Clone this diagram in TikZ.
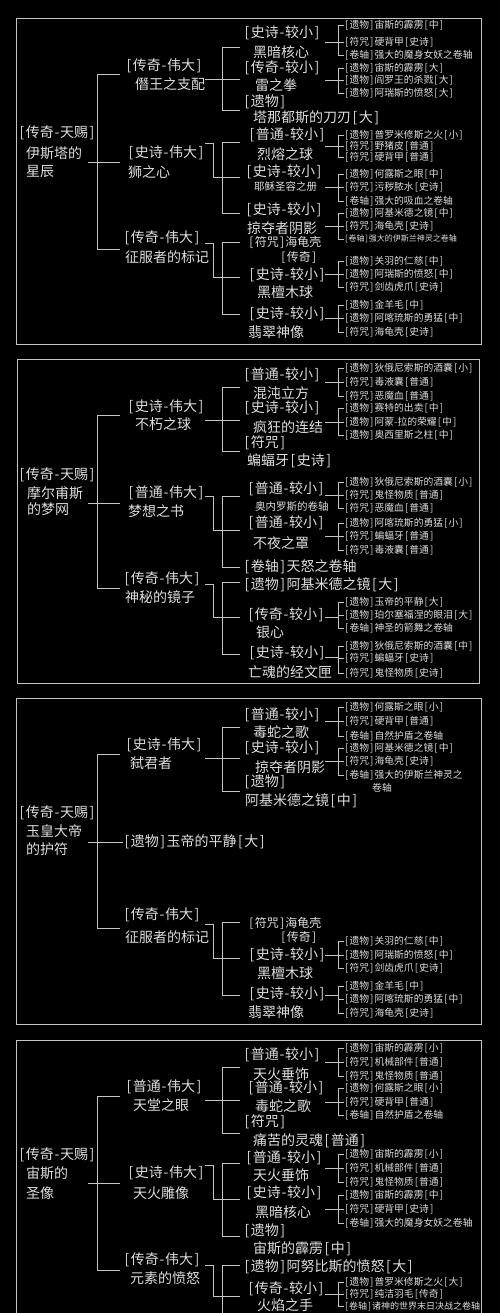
\documentclass[tikz,border=0pt]{standalone}
\usepackage{fontspec}
\setmainfont{Noto Sans CJK SC}
\definecolor{tc}{HTML}{DDDDDD}
\definecolor{lc}{HTML}{C4C4C4}
\newcommand\bk[1]{\makebox[0.55em]{[}#1\makebox[0.55em]{]}}
\newcommand\hy{\makebox[0.45em]{-}}
\newcommand\tg[2]{\bk{#1\hy #2}}
\newcommand\grp[8]{%
  \node[sm] (#1a) at (344,#3) {#6};
  \node[sm] (#1b) at (344,#4) {#7};
  \node[sm] (#1c) at (344,#5) {#8};
  \coordinate (#1s) at (325,#2);
  \draw[ln] (#1a.west) -- (338,#3) -- (338,#5) -- (#1c.west);
  \draw[ln] (#1s) -- (338,#2);
  \draw[ln] (338,#4) -- (#1b.west);
}
\begin{document}
\begin{tikzpicture}[x=1pt,y=-1pt,
  big/.style={anchor=west,inner sep=0pt,text=tc,font=\fontsize{14}{14}\selectfont},
  md/.style={anchor=west,inner sep=0pt,text=tc,font=\fontsize{12}{12}\selectfont},
  ms/.style={anchor=west,inner sep=0pt,text=tc,font=\fontsize{10.5}{10.5}\selectfont},
  sm/.style={anchor=west,inner sep=0pt,text=tc,font=\fontsize{9.8}{9.8}\selectfont},
  ln/.style={draw=lc,line width=0.8pt}]
\useasboundingbox (0,0) rectangle (500,1313);
\clip (0,0) rectangle (500,1313);
\fill[black] (0,0) rectangle (500,1313);

% ================= Panel 1 =================
\draw[ln] (16,18) rectangle (481,344);
\node[big] (r1a) at (18,133) {\tg{传奇}{天赐}};
\node[big] (r1b) at (26,153) {伊斯塔的};
\node[big] (r1c) at (26,172) {星辰};
\draw[ln] (88,162) -- (120,162);
\draw[ln] (120,74) -- (97,74) -- (97,249) -- (120,249);
\node[big] (c11a) at (125,66) {\tg{传奇}{伟大}};
\node[big] (c11b) at (135,84) {僭王之支配};
\node[big] (c12a) at (127,153) {\tg{史诗}{伟大}};
\node[big] (c12b) at (128,172) {狮之心};
\node[big] (c13a) at (123,238) {\tg{传奇}{伟大}};
\node[big] (c13b) at (125,257) {征服者的标记};
\draw[ln] (205,79) -- (240,79);
\draw[ln] (240,47) -- (222,47) -- (222,110) -- (240,110);
\draw[ln] (205,143) -- (213,143) -- (213,177) -- (240,177);
\draw[ln] (240,142) -- (222,142) -- (222,213) -- (240,213);
\draw[ln] (205,243) -- (213,243) -- (213,277) -- (240,277);
\draw[ln] (240,242) -- (222,242) -- (222,314) -- (240,314);
\node[big] (g11a) at (243,33) {\tg{史诗}{较小}};
\node[big] (g11b) at (253,52) {黑暗核心};
\node[big] (g12a) at (243,68) {\tg{传奇}{较小}};
\node[big] (g12b) at (255,85) {雷之拳};
\node[big] (g13a) at (243,102) {\bk{遗物}};
\node[big] (g13b) at (253,118) {塔那都斯的刀刃\bk{大}};
\node[big] (g14a) at (248,135) {\tg{普通}{较小}};
\node[big] (g14b) at (257,154) {烈熔之球};
\node[big] (g15a) at (245,172) {\tg{史诗}{较小}};
\node[ms] (g15b) at (254,187) {耶稣圣容之册};
\node[big] (g16a) at (245,210) {\tg{史诗}{较小}};
\node[big] (g16b) at (247,228) {掠夺者阴影};
\node[md] (g17a) at (248,242) {\bk{符咒}海龟壳};
\node[md] (g17b) at (280,257) {\bk{传奇}};
\node[big] (g18a) at (248,275) {\tg{史诗}{较小}};
\node[big] (g18b) at (257,292) {黑檀木球};
\node[big] (g19a) at (248,314) {\tg{史诗}{较小}};
\node[big] (g19b) at (248,332) {翡翠神像};
\grp{s1A}{42}{25}{42}{55}{\bk{遗物}宙斯的霹雳\bk{中}}{\bk{符咒}硬背甲\bk{史诗}}{\bk{卷轴}强大的魔身女妖之卷轴}
\grp{s1B}{80}{68}{80}{93}{\bk{遗物}宙斯的霹雳\bk{大}}{\bk{遗物}阎罗王的杀戮\bk{大}}{\bk{遗物}阿瑞斯的愤怒\bk{大}}
\grp{s1C}{146}{135}{146}{157}{\bk{遗物}普罗米修斯之火\bk{小}}{\bk{符咒}野猪皮\bk{普通}}{\bk{符咒}硬背甲\bk{普通}}
\grp{s1D}{187}{174}{187}{201}{\bk{遗物}何露斯之眼\bk{中}}{\bk{符咒}污秽脓水\bk{史诗}}{\bk{卷轴}强大的吸血之卷轴}
\grp{s1E}{226}{213}{226}{239}{\bk{遗物}阿基米德之镜\bk{中}}{\bk{符咒}海龟壳\bk{史诗}}{\fontsize{8}{8}\selectfont\bk{卷轴}强大的伊斯兰神灵之卷轴}
\grp{s1F}{274}{261}{274}{287}{\bk{遗物}关羽的仁慈\bk{中}}{\bk{遗物}阿瑞斯的愤怒\bk{中}}{\bk{符咒}剑齿虎爪\bk{史诗}}
\grp{s1G}{318}{305}{318}{332}{\bk{遗物}金羊毛\bk{中}}{\bk{遗物}阿喀琉斯的勇猛\bk{中}}{\bk{符咒}海龟壳\bk{史诗}}

% ================= Panel 2 =================
\draw[ln] (17,359) rectangle (479,683);
\node[big] (r2a) at (18,475) {\tg{传奇}{天赐}};
\node[big] (r2b) at (27,493) {摩尔甫斯};
\node[big] (r2c) at (27,509) {的梦网};
\draw[ln] (88,503) -- (120,503);
\draw[ln] (120,415) -- (97,415) -- (97,588) -- (120,588);
\node[big] (c21a) at (127,407) {\tg{史诗}{伟大}};
\node[big] (c21b) at (135,424) {不朽之球};
\node[big] (c22a) at (127,493) {\tg{普通}{伟大}};
\node[big] (c22b) at (128,511) {梦想之书};
\node[big] (c23a) at (123,579) {\tg{传奇}{伟大}};
\node[big] (c23b) at (125,597) {神秘的镜子};
\draw[ln] (205,420) -- (240,420);
\draw[ln] (240,387) -- (222,387) -- (222,451) -- (240,451);
\draw[ln] (205,496) -- (213,496) -- (213,530) -- (240,530);
\draw[ln] (240,496) -- (222,496) -- (222,567) -- (240,567);
\draw[ln] (205,584) -- (213,584) -- (213,617) -- (240,617);
\draw[ln] (240,582) -- (222,582) -- (222,654) -- (240,654);
\node[big] (g21a) at (243,375) {\tg{普通}{较小}};
\node[big] (g21b) at (253,393) {混沌立方};
\node[big] (g22a) at (243,408) {\tg{史诗}{较小}};
\node[big] (g22b) at (253,427) {疯狂的连结};
\node[big] (g23a) at (243,443) {\bk{符咒}};
\node[big] (g23b) at (247,461) {蝙蝠牙\bk{史诗}};
\node[big] (g24a) at (247,489) {\tg{普通}{较小}};
\node[ms] (g24b) at (255,507) {奥内罗斯的卷轴};
\node[big] (g25a) at (247,523) {\tg{普通}{较小}};
\node[big] (g25b) at (253,543) {不夜之罩};
\node[big] (g26a) at (243,567) {\bk{卷轴}天怒之卷轴};
\node[big] (g27a) at (243,585) {\bk{遗物}阿基米德之镜\bk{大}};
\node[big] (g28a) at (247,615) {\tg{传奇}{较小}};
\node[big] (g28b) at (256,632) {银心};
\node[big] (g29a) at (248,653) {\tg{史诗}{较小}};
\node[big] (g29b) at (248,672) {亡魂的经文匣};
\grp{s2A}{382}{368}{382}{396}{\bk{遗物}狄俄尼索斯的酒囊\bk{小}}{\bk{符咒}毒液囊\bk{普通}}{\bk{符咒}恶魔血\bk{普通}}
\grp{s2B}{422}{408}{422}{435}{\bk{遗物}赛特的出卖\bk{中}}{\bk{遗物}阿蒙-拉的荣耀\bk{中}}{\bk{遗物}奥西里斯之柱\bk{中}}
\grp{s2C}{495}{482}{495}{508}{\bk{遗物}狄俄尼索斯的酒囊\bk{小}}{\bk{符咒}鬼怪物质\bk{普通}}{\bk{符咒}恶魔血\bk{普通}}
\grp{s2D}{536}{523}{536}{550}{\bk{遗物}阿喀琉斯的勇猛\bk{小}}{\bk{符咒}蝙蝠牙\bk{普通}}{\bk{符咒}毒液囊\bk{普通}}
\grp{s2E}{617}{602}{615}{628}{\bk{遗物}玉帝的平静\bk{大}}{\bk{遗物}珀尔塞福涅的眼泪\bk{大}}{\bk{卷轴}神圣的箭舞之卷轴}
\grp{s2F}{657}{646}{658}{673}{\bk{遗物}狄俄尼索斯的酒囊\bk{中}}{\bk{符咒}蝙蝠牙\bk{史诗}}{\bk{符咒}鬼怪物质\bk{史诗}}

% ================= Panel 3 =================
\draw[ln] (16,698) rectangle (481,1024);
\node[big] (r3a) at (18,813) {\tg{传奇}{天赐}};
\node[big] (r3b) at (26,831) {玉皇大帝};
\node[big] (r3c) at (26,849) {的护符};
\node[big] (c32a) at (123,842) {\bk{遗物}玉帝的平静\bk{大}};
\draw[ln] (88,842) -- (c32a.west);
\draw[ln] (120,754) -- (97,754) -- (97,928) -- (120,928);
\node[big] (c31a) at (125,745) {\tg{史诗}{伟大}};
\node[big] (c31b) at (130,763) {弑君者};
\node[big] (c33a) at (123,915) {\tg{传奇}{伟大}};
\node[big] (c33b) at (125,937) {征服者的标记};
\draw[ln] (205,758) -- (240,758);
\draw[ln] (240,727) -- (222,727) -- (222,791) -- (240,791);
\draw[ln] (205,924) -- (213,924) -- (213,958) -- (240,958);
\draw[ln] (240,922) -- (222,922) -- (222,995) -- (240,995);
\node[big] (g31a) at (243,715) {\tg{普通}{较小}};
\node[big] (g31b) at (253,732) {毒蛇之歌};
\node[big] (g32a) at (243,748) {\tg{史诗}{较小}};
\node[big] (g32b) at (255,767) {掠夺者阴影};
\node[big] (g33a) at (243,782) {\bk{遗物}};
\node[big] (g33b) at (245,801) {阿基米德之镜\bk{中}};
\node[md] (g37a) at (248,923) {\bk{符咒}海龟壳};
\node[md] (g37b) at (280,937) {\bk{传奇}};
\node[big] (g38a) at (248,955) {\tg{史诗}{较小}};
\node[big] (g38b) at (257,973) {黑檀木球};
\node[big] (g39a) at (248,994) {\tg{史诗}{较小}};
\node[big] (g39b) at (248,1012) {翡翠神像};
\grp{s3A}{721}{707}{721}{736}{\bk{遗物}何露斯之眼\bk{小}}{\bk{符咒}硬背甲\bk{普通}}{\bk{卷轴}自然护盾之卷轴}
\grp{s3B}{761}{748}{761}{775}{\bk{遗物}阿基米德之镜\bk{中}}{\bk{符咒}海龟壳\bk{史诗}}{\bk{卷轴}强大的伊斯兰神灵之}
\node[sm] (s3Bd) at (372,788) {卷轴};
\grp{s3F}{955}{941}{955}{968}{\bk{遗物}关羽的仁慈\bk{中}}{\bk{遗物}阿瑞斯的愤怒\bk{中}}{\bk{符咒}剑齿虎爪\bk{史诗}}
\grp{s3G}{995}{986}{999}{1013}{\bk{遗物}金羊毛\bk{中}}{\bk{遗物}阿喀琉斯的勇猛\bk{中}}{\bk{符咒}海龟壳\bk{史诗}}

% ================= Panel 4 =================
\draw[ln] (16,1040) rectangle (481,1340);
\node[big] (r4a) at (18,1155) {\tg{传奇}{天赐}};
\node[big] (r4b) at (26,1173) {宙斯的};
\node[big] (r4c) at (26,1193) {圣像};
\draw[ln] (88,1183) -- (120,1183);
\draw[ln] (120,1096) -- (97,1096) -- (97,1270) -- (120,1270);
\node[big] (c41a) at (125,1087) {\tg{普通}{伟大}};
\node[big] (c41b) at (133,1105) {天堂之眼};
\node[big] (c42a) at (127,1173) {\tg{史诗}{伟大}};
\node[big] (c42b) at (133,1193) {天火雕像};
\node[big] (c43a) at (123,1260) {\tg{传奇}{伟大}};
\node[big] (c43b) at (130,1278) {元素的愤怒};
\draw[ln] (205,1100) -- (240,1100);
\draw[ln] (240,1067) -- (222,1067) -- (222,1133) -- (240,1133);
\draw[ln] (205,1165) -- (213,1165) -- (213,1199) -- (240,1199);
\draw[ln] (240,1163) -- (222,1163) -- (222,1236) -- (240,1236);
\draw[ln] (205,1265) -- (213,1265) -- (213,1296) -- (240,1296);
\draw[ln] (240,1265) -- (222,1265) -- (222,1330);
\node[big] (g41a) at (243,1055) {\tg{普通}{较小}};
\node[big] (g41b) at (253,1074) {天火垂饰};
\node[big] (g42a) at (247,1088) {\tg{普通}{较小}};
\node[big] (g42b) at (255,1106) {毒蛇之歌};
\node[big] (g43a) at (243,1122) {\bk{符咒}};
\node[big] (g43b) at (253,1141) {痛苦的灵魂\bk{普通}};
\node[big] (g44a) at (245,1158) {\tg{普通}{较小}};
\node[big] (g44b) at (253,1175) {天火垂饰};
\node[big] (g45a) at (245,1193) {\tg{史诗}{较小}};
\node[big] (g45b) at (255,1212) {黑暗核心};
\node[big] (g46a) at (243,1231) {\bk{遗物}};
\node[big] (g46b) at (253,1249) {宙斯的霹雳\bk{中}};
\node[big] (g47a) at (243,1267) {\bk{遗物}阿努比斯的愤怒\bk{大}};
\node[big] (g48a) at (247,1289) {\tg{传奇}{较小}};
\node[big] (g48b) at (257,1305) {火焰之手};
\grp{s4E}{1294}{1282}{1294}{1306}{\bk{遗物}普罗米修斯之火\bk{大}}{\bk{符咒}纯洁羽毛\bk{传奇}}{\fontsize{9}{9}\selectfont\bk{卷轴}诸神的世界末日决战之卷轴}
\grp{s4A}{1062}{1048}{1062}{1076}{\bk{遗物}宙斯的霹雳\bk{小}}{\bk{符咒}机械部件\bk{普通}}{\bk{符咒}鬼怪物质\bk{普通}}
\grp{s4B}{1102}{1088}{1102}{1115}{\bk{遗物}何露斯之眼\bk{小}}{\bk{符咒}硬背甲\bk{普通}}{\bk{卷轴}自然护盾之卷轴}
\grp{s4C}{1168}{1154}{1168}{1182}{\bk{遗物}宙斯的霹雳\bk{小}}{\bk{符咒}机械部件\bk{普通}}{\bk{符咒}鬼怪物质\bk{普通}}
\grp{s4D}{1209}{1195}{1209}{1223}{\bk{遗物}宙斯的霹雳\bk{中}}{\bk{符咒}硬背甲\bk{史诗}}{\bk{卷轴}强大的魔身女妖之卷轴}
\end{tikzpicture}
\end{document}
